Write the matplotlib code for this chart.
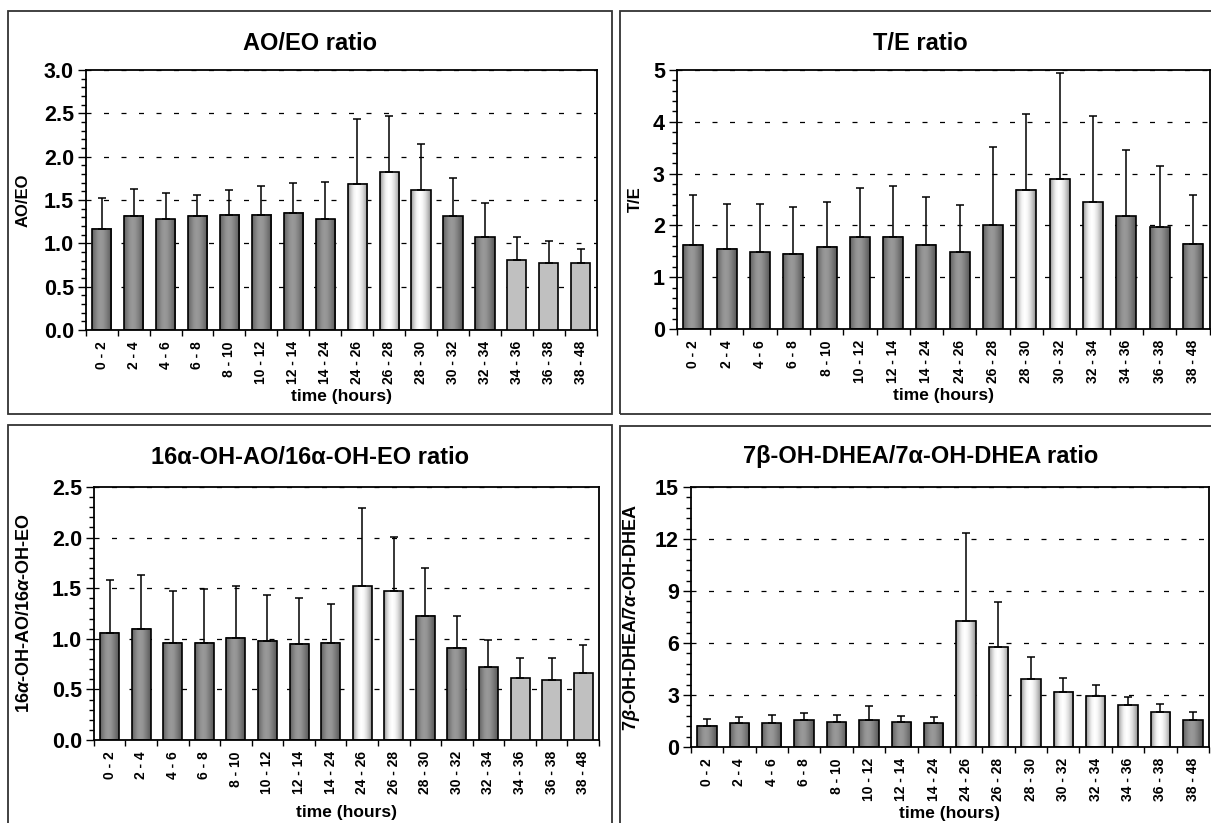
import numpy as np
import matplotlib
matplotlib.use("Agg")
import matplotlib.pyplot as plt
from matplotlib.patches import Rectangle
from matplotlib.ticker import MultipleLocator, FixedLocator, FormatStrFormatter

plt.rcParams['font.family'] = ['Liberation Sans', 'DejaVu Sans']
plt.rcParams['font.weight'] = 'bold'
plt.rcParams['mathtext.fontset'] = 'custom'
plt.rcParams['mathtext.rm'] = 'Liberation Sans:bold'
plt.rcParams['mathtext.it'] = 'Liberation Sans:italic:bold'

# data
periods = ["0 - 2", "2 - 4", "4 - 6", "6 - 8", "8 - 10", "10 - 12", "12 - 14", "14 - 24",
           "24 - 26", "26 - 28", "28 - 30", "30 - 32", "32 - 34", "34 - 36", "36 - 38", "38 - 48"]

ao_eo = [1.17, 1.32, 1.28, 1.32, 1.33, 1.33, 1.35, 1.28, 1.69, 1.82, 1.61, 1.31, 1.07, 0.81, 0.77, 0.77]
ao_eo_top = [1.52, 1.63, 1.58, 1.56, 1.62, 1.66, 1.70, 1.71, 2.44, 2.47, 2.15, 1.75, 1.47, 1.07, 1.03, 0.94]
ao_eo_style = ["d"] * 8 + ["l"] * 3 + ["d"] * 2 + ["f"] * 3

t_e = [1.63, 1.55, 1.48, 1.45, 1.59, 1.77, 1.78, 1.63, 1.48, 2.00, 2.69, 2.90, 2.45, 2.18, 1.96, 1.65]
t_e_top = [2.59, 2.42, 2.42, 2.35, 2.46, 2.73, 2.77, 2.55, 2.40, 3.52, 4.15, 4.95, 4.11, 3.45, 3.15, 2.59]
t_e_style = ["d"] * 10 + ["l"] * 3 + ["d"] * 3

oh16 = [1.06, 1.10, 0.96, 0.96, 1.01, 0.98, 0.95, 0.96, 1.52, 1.47, 1.23, 0.91, 0.72, 0.61, 0.59, 0.66]
oh16_top = [1.58, 1.63, 1.47, 1.49, 1.52, 1.43, 1.40, 1.34, 2.29, 2.01, 1.70, 1.23, 0.99, 0.81, 0.81, 0.94]
oh16_style = ["d"] * 8 + ["l"] * 2 + ["d"] * 3 + ["f"] * 3

dhea7 = [1.23, 1.36, 1.36, 1.55, 1.42, 1.55, 1.42, 1.36, 7.27, 5.75, 3.91, 3.18, 2.95, 2.40, 2.01, 1.55]
dhea7_top = [1.59, 1.71, 1.86, 1.94, 1.86, 2.34, 1.80, 1.71, 12.35, 8.38, 5.22, 3.97, 3.57, 2.86, 2.46, 2.00]
dhea7_style = ["d"] * 8 + ["l"] * 7 + ["d"]

W, H = 1211, 823
fig = plt.figure(figsize=(W / 100, H / 100), dpi=100)
fig.patch.set_facecolor('white')

dark_prof = [0.38, 0.48, 0.57, 0.60, 0.58, 0.51, 0.43, 0.34]
light_prof = [0.58, 0.80, 0.95, 1.0, 0.97, 0.88, 0.74, 0.55]


def frame(x0, y0, x1, y1):
    fig.add_artist(Rectangle((x0 / W, 1 - y1 / H), (x1 - x0) / W, (y1 - y0) / H,
                             transform=fig.transFigure, fill=False, ec='#333333', lw=1.3))


def panel(box, title, tcx, tcy, vals, tops, styles, ymax, major, minor, fmt,
          ylabel, ylsize, ylx, xlpad):
    l, t, r, b = box
    ax = fig.add_axes([l / W, 1 - b / H, (r - l) / W, (b - t) / H])
    x = np.arange(len(vals))
    bars = ax.bar(x, vals, width=0.6, color='none', edgecolor='black', linewidth=1.2, zorder=3)
    for bar, s in zip(bars, styles):
        if s == "f":
            bar.set_facecolor('#c0c0c0')
            continue
        prof = dark_prof if s == "d" else light_prof
        grad = np.interp(np.linspace(0, 1, 64), np.linspace(0, 1, len(prof)), prof)[None, :]
        ax.imshow(grad, cmap='gray', vmin=0, vmax=1, aspect='auto', interpolation='bilinear',
                  extent=[bar.get_x(), bar.get_x() + bar.get_width(), 0, bar.get_height()], zorder=2.5)
    err = np.array(tops) - np.array(vals)
    ax.errorbar(x, vals, yerr=[np.zeros_like(err), err], fmt='none', ecolor='black',
                elinewidth=1.1, capsize=3, capthick=1.1, zorder=4)
    ax.set_xlim(-0.5, len(vals) - 0.5)
    ax.set_ylim(0, ymax)
    ax.set_xticks(x)
    ax.set_xticklabels(periods, rotation=90, fontsize=10, fontweight='bold')
    ax.xaxis.set_minor_locator(FixedLocator(np.arange(-0.5, len(vals), 1.0)))
    ax.tick_params(axis='x', which='major', length=0, pad=8)
    ax.tick_params(axis='x', which='minor', length=4, width=1, direction='out')
    ax.yaxis.set_major_locator(MultipleLocator(major))
    ax.yaxis.set_minor_locator(MultipleLocator(minor))
    ax.yaxis.set_major_formatter(FormatStrFormatter(fmt))
    ax.tick_params(axis='y', which='major', length=5.5, width=1, labelsize=15.5, pad=3)
    ax.tick_params(axis='y', which='minor', length=3.4, width=1)
    for lab in ax.get_yticklabels():
        lab.set_fontweight('bold')
    ax.set_axisbelow(True)
    ax.yaxis.grid(True, which='major', linestyle=(0, (4, 10)), color='black', lw=0.9)
    for sp in ax.spines.values():
        sp.set_linewidth(1.3)
    ax.set_xlabel("time (hours)", fontsize=12.5, fontweight='bold', labelpad=xlpad)
    ax.set_ylabel(ylabel, fontsize=ylsize, fontweight='bold')
    ax.yaxis.set_label_coords((ylx - l) / (r - l), 0.5)
    fig.text(tcx / W, 1 - tcy / H, title, ha='center', va='center', fontsize=17, fontweight='bold')
    return ax


frame(8, 11, 612, 414)
frame(620, 11, 1225, 414)
frame(8, 425, 612, 835)
frame(620, 426, 1225, 835)

panel((85.7, 70, 596.7, 330), "AO/EO ratio", 310, 44, ao_eo, ao_eo_top, ao_eo_style,
      3.0, 0.5, 0.1, '%.1f', "AO/EO", 12, 31, 3)
panel((676.7, 70, 1209.5, 329), "T/E ratio", 920, 44, t_e, t_e_top, t_e_style,
      5, 1, 0.2, '%d', "T/E", 12, 643, 3)
panel((93.8, 487, 599, 740), "16\u03b1-OH-AO/16\u03b1-OH-EO ratio", 310, 457, oh16, oh16_top, oh16_style,
      2.5, 0.5, 0.1, '%.1f', r"16$\alpha$-OH-AO/16$\alpha$-OH-EO", 13, 33, 8)
panel((690.8, 487, 1209, 747), "7\u03b2-OH-DHEA/7\u03b1-OH-DHEA ratio", 921, 457, dhea7, dhea7_top, dhea7_style,
      15, 3, 0.6, '%d', r"7$\beta$-OH-DHEA/7$\alpha$-OH-DHEA", 13, 642, 3)

fig.savefig("out.png", dpi=100, facecolor='white')
